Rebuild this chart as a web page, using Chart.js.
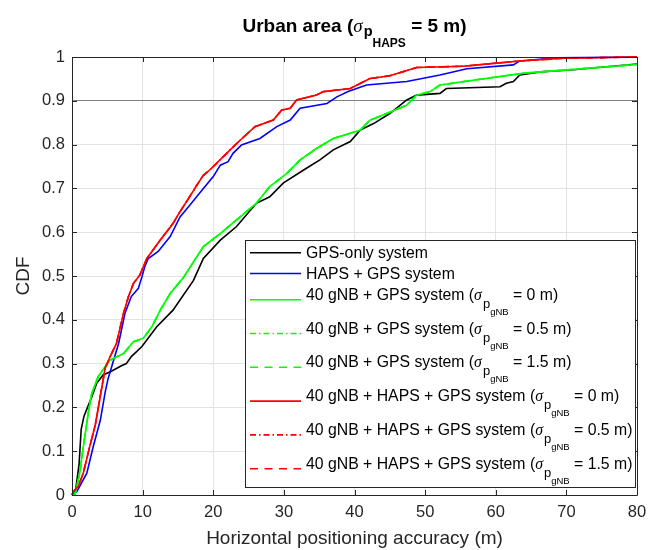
<!DOCTYPE html>
<html>
<head>
<meta charset="utf-8">
<script src="https://cdn.jsdelivr.net/npm/chart.js@4.4.1/dist/chart.umd.min.js"></script>
<style>
  html, body { margin: 0; padding: 0; background: #fff; }
</style>
</head>
<body>
<canvas id="cdfChart" width="672" height="550"></canvas>
<script>
// CDF curves, [accuracy (m), CDF]
const gpsOnly = [[0,0],[0.5,0.01],[1.0,0.07],[1.3,0.15],[1.7,0.18],[2.2,0.2],[2.8,0.224],[3.5,0.255],[4.4,0.274],
  [5.5,0.282],[7.0,0.295],[7.7,0.30],[8.4,0.316],[9.9,0.339],[12,0.384],[14.3,0.422],[17.2,0.49],[18.6,0.54],[21,0.582],
  [23.3,0.613],[26.1,0.666],[28,0.681],[29.9,0.712],[32.8,0.742],[35.1,0.765],[37,0.788],[39.4,0.807],[40.8,0.833],
  [42.7,0.848],[45,0.871],[47.4,0.902],[48.8,0.913],[52.1,0.917],[53,0.928],[60.6,0.932],[61.5,0.94],[62.5,0.944],
  [63.4,0.959],[66.3,0.966],[71,0.971],[80,0.984]];

const hapsGps = [[0,0],[0.7,0.008],[2.1,0.05],[3.0,0.11],[4.0,0.17],[4.7,0.235],[5.1,0.265],[5.9,0.308],[6.6,0.346],
  [7.5,0.415],[8.4,0.453],[9.4,0.472],[9.9,0.498],[10.3,0.521],[10.8,0.54],[12.2,0.556],[13.9,0.59],[15.3,0.635],
  [16.7,0.662],[18.4,0.696],[20,0.727],[21,0.753],[22.1,0.761],[22.8,0.78],[24,0.799],[26.6,0.814],[29,0.841],
  [30.9,0.856],[32.3,0.883],[36.1,0.894],[37.5,0.909],[39.1,0.921],[41.7,0.936],[47.4,0.944],[52.1,0.959],
  [55.9,0.973],[62.5,0.982],[63.4,0.991],[68.6,0.998],[80,1.0]];

const gnbGps = [[0,0],[0.4,0],[1.1,0.05],[1.6,0.11],[2.3,0.187],[2.8,0.232],[3.7,0.27],[4.7,0.293],[5.4,0.308],
  [7.3,0.323],[8.7,0.35],[10.1,0.358],[11.3,0.384],[12.5,0.422],[13.9,0.46],[15.8,0.497],[18.6,0.567],[21,0.597],
  [23.3,0.628],[26.1,0.666],[28,0.704],[30.4,0.734],[32.3,0.765],[34.6,0.791],[37,0.814],[39.4,0.826],[40.8,0.833],
  [42.2,0.856],[44.1,0.868],[47.4,0.89],[48.8,0.913],[50.7,0.921],[52.1,0.936],[56.8,0.947],[63.9,0.963],[80,0.983]];

const gnbHapsGps = [[0,0],[0.2,0.008],[0.9,0.02],[1.6,0.05],[2.5,0.11],[3.3,0.16],[4.0,0.225],[4.7,0.29],[5.4,0.316],
  [6.3,0.346],[7.3,0.415],[8.0,0.453],[8.7,0.483],[9.6,0.502],[10.6,0.54],[12.5,0.582],[14.3,0.62],[15.3,0.647],
  [16.5,0.677],[17.7,0.708],[18.6,0.73],[19.5,0.742],[21.2,0.769],[23.8,0.81],[25.9,0.841],[28.5,0.856],[29.7,0.879],
  [30.9,0.883],[31.8,0.902],[34.6,0.913],[35.6,0.921],[39.4,0.928],[42.2,0.951],[45,0.957],[48.8,0.976],[55.4,0.979],
  [60.1,0.986],[63.4,0.991],[69.6,0.997],[80,1.0]];

const seriesNames = [
  'GPS-only system',
  'HAPS + GPS system',
  '40 gNB + GPS system (σ_{p_{gNB}} = 0 m)',
  '40 gNB + GPS system (σ_{p_{gNB}} = 0.5 m)',
  '40 gNB + GPS system (σ_{p_{gNB}} = 1.5 m)',
  '40 gNB + HAPS + GPS system (σ_{p_{gNB}} = 0 m)',
  '40 gNB + HAPS + GPS system (σ_{p_{gNB}} = 0.5 m)',
  '40 gNB + HAPS + GPS system (σ_{p_{gNB}} = 1.5 m)'
];
// the three sigma variants lie on top of each other in the figure
const seriesData = [gpsOnly, hapsGps, gnbGps, gnbGps, gnbGps, gnbHapsGps, gnbHapsGps, gnbHapsGps];
const seriesColors = ['#000000', '#0000ff', '#00ff00', '#00ff00', '#00ff00', '#ff0000', '#ff0000', '#ff0000'];
const seriesDash = [[], [], [], [6, 3, 1.5, 3], [8, 6.5], [], [6, 3, 1.5, 3], [8, 6.5]];

const xTicks = [0, 10, 20, 30, 40, 50, 60, 70, 80];
const yTicks = [0, 0.1, 0.2, 0.3, 0.4, 0.5, 0.6, 0.7, 0.8, 0.9, 1];
const chartTitle = 'Urban area (σ_{p_{HAPS}} = 5 m)';
const xTitle = 'Horizontal positioning accuracy (m)';
const yTitle = 'CDF';

const axisColor = '#262626';
Chart.defaults.font.family = 'Arial, "Liberation Sans", sans-serif';

// draws "text (σ_{a_{b}} rest" with MATLAB-like nested subscripts; returns width
function richText(ctx, label, x, base, f, draw) {
  const m = label.match(/^(.*)σ_\{(\w+)_\{(\w+)\}\}(.*)$/);
  const parts = m
    ? [[m[1], f.main, 0], ['σ', f.sigma, 0], [m[2], f.sub, f.subDy], [m[3], f.subsub, f.subsubDy], [m[4], f.main, 0]]
    : [[label, f.main, 0]];
  let cx = x;
  parts.forEach(([t, font, dy], i) => {
    ctx.font = font;
    if (draw) ctx.fillText(t, cx, base + dy);
    cx += ctx.measureText(t).width + (i === 1 ? 1 : 0);
  });
  return cx - x;
}

const matlabAxes = {
  id: 'matlabAxes',
  afterDatasetsDraw(chart) {
    const { ctx, chartArea: a, scales: { x, y } } = chart;
    ctx.save();
    ctx.strokeStyle = axisColor;
    ctx.lineWidth = 1;
    ctx.beginPath();
    ctx.rect(Math.round(a.left) + 0.5, Math.round(a.top) + 0.5, Math.round(a.right - a.left), Math.round(a.bottom - a.top));
    xTicks.forEach(v => {
      const px = Math.round(x.getPixelForValue(v)) + 0.5;
      ctx.moveTo(px, a.bottom); ctx.lineTo(px, a.bottom - 5);
      ctx.moveTo(px, a.top); ctx.lineTo(px, a.top + 5);
    });
    yTicks.forEach(v => {
      const py = Math.round(y.getPixelForValue(v)) + 0.5;
      ctx.moveTo(a.left, py); ctx.lineTo(a.left + 5, py);
      ctx.moveTo(a.right, py); ctx.lineTo(a.right - 5, py);
    });
    ctx.stroke();
    ctx.restore();
  },
  afterDraw(chart) {
    const { ctx, chartArea: a } = chart;
    ctx.save();
    ctx.fillStyle = '#000';
    ctx.textBaseline = 'alphabetic';

    // title
    const tf = {
      main: 'bold 19px Arial', sigma: 'italic 19px "Liberation Serif", serif',
      sub: 'bold 14.5px Arial', subsub: 'bold 12px Arial', subDy: 4, subsubDy: 15
    };
    const tw = richText(ctx, chartTitle, 0, 0, tf, false);
    richText(ctx, chartTitle, (a.left + a.right) / 2 - tw / 2, 31.5, tf, true);

    // legend box, south-east
    const box = { left: 245, top: 240, right: a.right - 2, bottom: 487 };
    ctx.fillStyle = '#fff';
    ctx.fillRect(box.left, box.top, box.right - box.left, box.bottom - box.top);
    ctx.strokeStyle = axisColor;
    ctx.lineWidth = 1;
    ctx.strokeRect(box.left + 0.5, box.top + 0.5, box.right - box.left, box.bottom - box.top);

    const lf = {
      main: '15.8px Arial', sigma: 'italic 15.8px "Liberation Serif", serif',
      sub: '13px Arial', subsub: '9.5px Arial', subDy: 8, subsubDy: 15
    };
    let top = box.top + 2.4;
    chart.data.datasets.forEach((ds, i) => {
      const sub = ds.label.includes('σ');
      const h = sub ? 33.8 : 20.7;
      const mid = top + 10.4;
      const lineY = sub ? top + h / 2 - 1 : mid;
      ctx.strokeStyle = ds.borderColor;
      ctx.lineWidth = 1.6;
      ctx.setLineDash(ds.borderDash);
      ctx.beginPath();
      ctx.moveTo(box.left + 5, lineY);
      ctx.lineTo(box.left + 56, lineY);
      ctx.stroke();
      ctx.setLineDash([]);
      ctx.fillStyle = '#000';
      richText(ctx, ds.label, box.left + 61, mid + 5.6, lf, true);
      top += h;
    });
    ctx.restore();
  }
};

const datasets = seriesNames.map((name, i) => ({
  label: name,
  data: seriesData[i],
  borderColor: seriesColors[i],
  borderDash: seriesDash[i],
  borderWidth: 1.6,
  pointRadius: 0,
  tension: 0,
  clip: 3,
  order: seriesNames.length - i
}));

const tickFont = { size: 16.5 };
const ctx = document.getElementById('cdfChart').getContext('2d');
new Chart(ctx, {
  type: 'line',
  data: { datasets },
  options: {
    responsive: false,
    animation: false,
    layout: { padding: { top: 57, right: 35, left: 0, bottom: 0 } },
    plugins: {
      legend: { display: false },
      title: { display: false },
      tooltip: { enabled: false }
    },
    scales: {
      x: {
        type: 'linear',
        min: 0,
        max: 80,
        afterBuildTicks: s => { s.ticks = xTicks.map(v => ({ value: v })) },
        afterFit: s => { s.height = 55 },
        border: { display: false },
        grid: { color: '#e3e3e3', drawTicks: false },
        ticks: { font: tickFont, color: axisColor, padding: 8, maxRotation: 0 },
        title: { display: true, text: xTitle, color: axisColor, font: { size: 19 }, padding: { top: 0, bottom: 0 } }
      },
      y: {
        type: 'linear',
        min: 0,
        max: 1,
        afterBuildTicks: s => { s.ticks = yTicks.map(v => ({ value: v })) },
        afterFit: s => { s.width = 72 },
        border: { display: false },
        grid: {
          color: c => (c.tick && c.tick.value === 0.9 ? '#808080' : '#e3e3e3'),
          drawTicks: false
        },
        ticks: { font: tickFont, color: axisColor, padding: 7, callback: v => String(v) },
        title: { display: true, text: yTitle, color: axisColor, font: { size: 19 }, padding: { top: 12, bottom: 0 } }
      }
    }
  },
  plugins: [matlabAxes]
});
</script>
</body>
</html>
